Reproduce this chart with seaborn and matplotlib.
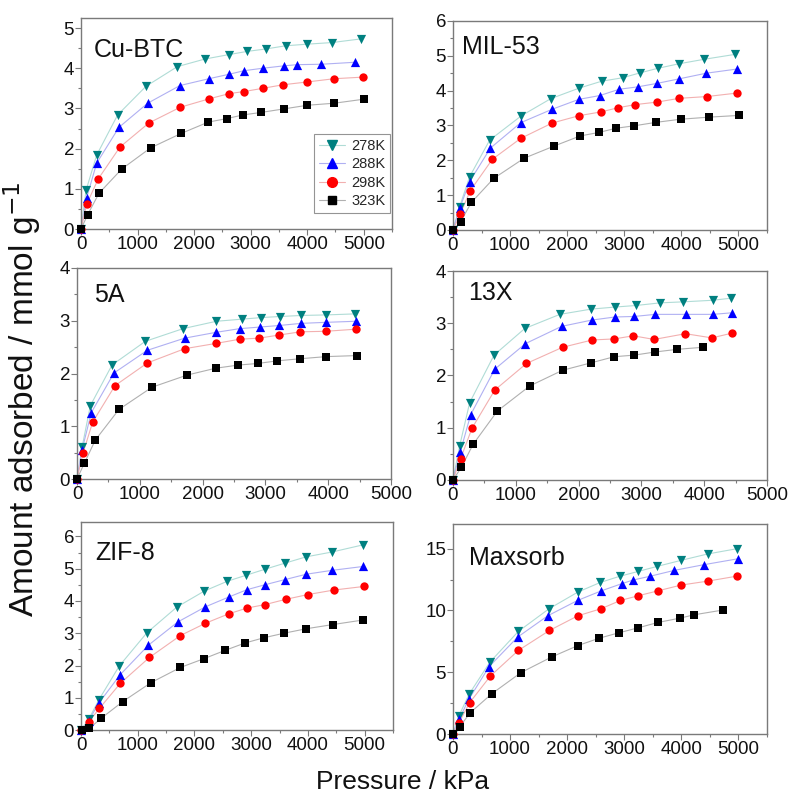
import numpy as np
import pandas as pd
import matplotlib
matplotlib.use("Agg")
import matplotlib.pyplot as plt
from matplotlib.lines import Line2D
from matplotlib.ticker import MultipleLocator
import seaborn as sns

temps = ["278K", "288K", "298K", "323K"]

# ---- Cu-BTC ----
cubtc_p_278 = [0, 88, 277, 648, 1148, 1702, 2191, 2615, 2939, 3268, 3622, 4005, 4440, 4947]
cubtc_q_278 = [0, 0.96, 1.84, 2.84, 3.55, 4.04, 4.23, 4.34, 4.42, 4.48, 4.56, 4.60, 4.64, 4.73]
cubtc_p_288 = [0, 100, 277, 671, 1178, 1749, 2262, 2615, 2886, 3210, 3587, 3823, 4252, 4853]
cubtc_q_288 = [0, 0.78, 1.64, 2.53, 3.13, 3.57, 3.74, 3.85, 3.94, 4.00, 4.06, 4.09, 4.10, 4.15]
cubtc_p_298 = [0, 100, 306, 689, 1201, 1755, 2267, 2621, 2880, 3210, 3575, 4005, 4476, 4988]
cubtc_q_298 = [0, 0.62, 1.25, 2.04, 2.64, 3.03, 3.24, 3.37, 3.42, 3.50, 3.59, 3.66, 3.74, 3.78]
cubtc_p_323 = [0, 118, 318, 718, 1231, 1773, 2250, 2585, 2868, 3180, 3592, 4005, 4476, 5000]
cubtc_q_323 = [0, 0.36, 0.89, 1.49, 2.02, 2.38, 2.66, 2.75, 2.84, 2.90, 2.99, 3.08, 3.13, 3.23]

# ---- MIL-53 ----
mil_p_278 = [0, 117, 292, 643, 1199, 1713, 2205, 2602, 2971, 3275, 3585, 3953, 4398, 4936]
mil_q_278 = [0, 0.67, 1.53, 2.58, 3.28, 3.77, 4.07, 4.27, 4.37, 4.51, 4.64, 4.77, 4.90, 5.04]
mil_p_288 = [0, 117, 292, 655, 1187, 1743, 2205, 2573, 2912, 3240, 3579, 3965, 4433, 4971]
mil_q_288 = [0, 0.62, 1.39, 2.35, 3.08, 3.47, 3.75, 3.86, 4.04, 4.11, 4.21, 4.34, 4.50, 4.62]
mil_p_298 = [0, 129, 304, 690, 1187, 1737, 2205, 2591, 2895, 3193, 3567, 3965, 4444, 4971]
mil_q_298 = [0, 0.46, 1.13, 2.03, 2.63, 3.07, 3.28, 3.39, 3.51, 3.60, 3.67, 3.78, 3.83, 3.93]
mil_p_323 = [0, 135, 322, 713, 1246, 1772, 2228, 2556, 2854, 3170, 3556, 3988, 4491, 5017]
mil_q_323 = [0, 0.24, 0.79, 1.48, 2.06, 2.41, 2.70, 2.80, 2.92, 2.99, 3.09, 3.18, 3.24, 3.29]

# ---- 5A ----
a5_p_278 = [0, 80, 212, 557, 1088, 1688, 2219, 2628, 2936, 3227, 3572, 3960, 4432]
a5_q_278 = [0, 0.60, 1.39, 2.16, 2.61, 2.85, 2.99, 3.03, 3.06, 3.08, 3.10, 3.11, 3.13]
a5_p_288 = [0, 80, 228, 589, 1120, 1714, 2213, 2590, 2909, 3222, 3567, 3970, 4443]
a5_q_288 = [0, 0.55, 1.26, 2.01, 2.44, 2.67, 2.78, 2.85, 2.88, 2.91, 2.95, 2.97, 2.99]
a5_p_298 = [0, 95, 250, 605, 1120, 1714, 2213, 2590, 2898, 3222, 3556, 3960, 4443]
a5_q_298 = [0, 0.49, 1.08, 1.77, 2.20, 2.47, 2.57, 2.65, 2.67, 2.73, 2.79, 2.80, 2.84]
a5_p_323 = [0, 117, 292, 669, 1194, 1752, 2208, 2569, 2877, 3190, 3556, 3965, 4459]
a5_q_323 = [0, 0.30, 0.74, 1.32, 1.74, 1.97, 2.10, 2.16, 2.19, 2.24, 2.28, 2.32, 2.34]

# ---- 13X ----
x13_p_278 = [0, 106, 266, 654, 1144, 1702, 2197, 2580, 2915, 3298, 3670, 4138, 4431]
x13_q_278 = [0, 0.65, 1.48, 2.39, 2.90, 3.17, 3.27, 3.31, 3.34, 3.39, 3.41, 3.44, 3.48]
x13_p_288 = [0, 117, 282, 665, 1154, 1729, 2207, 2580, 2888, 3218, 3707, 4138, 4441]
x13_q_288 = [0, 0.54, 1.25, 2.12, 2.61, 2.94, 3.06, 3.12, 3.13, 3.17, 3.17, 3.17, 3.20]
x13_p_298 = [0, 122, 303, 665, 1170, 1745, 2218, 2569, 2872, 3202, 3702, 4122, 4441]
x13_q_298 = [0, 0.41, 0.99, 1.72, 2.23, 2.54, 2.68, 2.70, 2.76, 2.69, 2.80, 2.72, 2.81]
x13_p_323 = [0, 133, 319, 707, 1223, 1745, 2191, 2569, 2888, 3218, 3564, 3979]
x13_q_323 = [0, 0.24, 0.68, 1.32, 1.80, 2.10, 2.24, 2.36, 2.39, 2.45, 2.50, 2.54]

# ---- ZIF-8 ----
zif_p_278 = [0, 135, 312, 676, 1159, 1688, 2176, 2576, 2912, 3235, 3588, 3971, 4429, 4971]
zif_q_278 = [0, 0.33, 0.93, 1.99, 3.01, 3.81, 4.31, 4.61, 4.80, 4.98, 5.17, 5.37, 5.52, 5.74]
zif_p_288 = [0, 135, 312, 688, 1188, 1706, 2194, 2600, 2924, 3235, 3588, 3971, 4424, 4971]
zif_q_288 = [0, 0.29, 0.83, 1.71, 2.63, 3.35, 3.82, 4.12, 4.35, 4.50, 4.66, 4.83, 4.95, 5.07]
zif_p_298 = [0, 135, 324, 694, 1206, 1753, 2194, 2600, 2924, 3247, 3606, 4000, 4459, 4982]
zif_q_298 = [0, 0.25, 0.67, 1.45, 2.25, 2.93, 3.31, 3.60, 3.78, 3.89, 4.05, 4.20, 4.34, 4.45]
zif_p_323 = [18, 147, 353, 735, 1235, 1753, 2165, 2541, 2894, 3224, 3576, 3971, 4441, 4971]
zif_q_323 = [0, 0.05, 0.36, 0.88, 1.47, 1.94, 2.21, 2.47, 2.70, 2.86, 3.00, 3.14, 3.27, 3.41]

# ---- Maxsorb ----
max_p_278 = [0, 106, 282, 646, 1144, 1684, 2189, 2582, 2917, 3245, 3580, 3991, 4460, 4977]
max_q_278 = [0, 1.49, 3.22, 5.81, 8.30, 10.14, 11.49, 12.27, 12.76, 13.16, 13.57, 14.05, 14.57, 15.0]
max_p_288 = [0, 106, 282, 634, 1132, 1661, 2183, 2600, 2952, 3152, 3445, 3873, 4390, 5000]
max_q_288 = [0, 1.19, 2.84, 5.46, 7.84, 9.57, 10.81, 11.59, 12.16, 12.46, 12.76, 13.24, 13.70, 14.19]
max_p_298 = [0, 106, 293, 657, 1144, 1690, 2189, 2594, 2934, 3245, 3592, 3991, 4472, 4977]
max_q_298 = [0, 0.92, 2.54, 4.70, 6.76, 8.38, 9.57, 10.14, 10.81, 11.19, 11.59, 12.05, 12.38, 12.78]
max_p_323 = [0, 117, 305, 675, 1191, 1731, 2189, 2565, 2905, 3240, 3592, 3979, 4225, 4724]
max_q_323 = [0, 0.59, 1.73, 3.24, 4.97, 6.24, 7.16, 7.76, 8.19, 8.59, 9.03, 9.38, 9.65, 10.03]

panels = [
    ("Cu-BTC", [(cubtc_p_278, cubtc_q_278), (cubtc_p_288, cubtc_q_288), (cubtc_p_298, cubtc_q_298), (cubtc_p_323, cubtc_q_323)]),
    ("MIL-53", [(mil_p_278, mil_q_278), (mil_p_288, mil_q_288), (mil_p_298, mil_q_298), (mil_p_323, mil_q_323)]),
    ("5A", [(a5_p_278, a5_q_278), (a5_p_288, a5_q_288), (a5_p_298, a5_q_298), (a5_p_323, a5_q_323)]),
    ("13X", [(x13_p_278, x13_q_278), (x13_p_288, x13_q_288), (x13_p_298, x13_q_298), (x13_p_323, x13_q_323)]),
    ("ZIF-8", [(zif_p_278, zif_q_278), (zif_p_288, zif_q_288), (zif_p_298, zif_q_298), (zif_p_323, zif_q_323)]),
    ("Maxsorb", [(max_p_278, max_q_278), (max_p_288, max_q_288), (max_p_298, max_q_298), (max_p_323, max_q_323)]),
]

sns.set_theme(style="white")
plt.rcParams["font.family"] = ["Liberation Sans", "DejaVu Sans"]

marker_colors = {"278K": "#008080", "288K": "#0000FF", "298K": "#FF0000", "323K": "#000000"}
line_colors = {"278K": "#B0DCD6", "288K": "#B0B0F2", "298K": "#F2B0B0", "323K": "#B0B0B0"}
markers = {"278K": "v", "288K": "^", "298K": "o", "323K": "s"}
msizes = {"278K": 44, "288K": 44, "298K": 36, "323K": 28}

# axes boxes [left, bottom, width, height] in figure fraction
boxes = [
    [0.1027, 0.7130, 0.3941, 0.2644],
    [0.5741, 0.7118, 0.3980, 0.2619],
    [0.0976, 0.3997, 0.3980, 0.2645],
    [0.5741, 0.3985, 0.3980, 0.2619],
    [0.1027, 0.0852, 0.3954, 0.2607],
    [0.5741, 0.0802, 0.3980, 0.2632],
]
xlims = [5500, 5500, 5000, 5000, 5500, 5500]
ylims = [5.25, 6, 4, 4, 6.45, 17]
ymaj = [1, 1, 1, 1, 1, 5]
title_pos = [(0.04, 0.85), (0.03, 0.875), (0.054, 0.87), (0.048, 0.895), (0.045, 0.85), (0.05, 0.84)]

fig = plt.figure(figsize=(7.89, 7.98), dpi=100)
spine_col = "#7a7a7a"

for i, (name, series) in enumerate(panels):
    ax = fig.add_axes(boxes[i])
    rows = []
    for t, (p, q) in zip(temps, series):
        for pp, qq in zip(p, q):
            rows.append({"P": pp, "q": qq, "T": t})
    df = pd.DataFrame(rows)
    sns.lineplot(data=df, x="P", y="q", hue="T", hue_order=temps, palette=line_colors,
                 sort=True, estimator=None, lw=0.8, ax=ax, legend=False)
    for t in temps:
        sns.scatterplot(data=df[df["T"] == t], x="P", y="q", color=marker_colors[t],
                        marker=markers[t], s=msizes[t], linewidth=0, ax=ax,
                        legend=False, zorder=3, clip_on=False)
    ax.set_xlim(0, xlims[i])
    ax.set_ylim(0, ylims[i])
    ax.xaxis.set_major_locator(MultipleLocator(1000))
    ax.xaxis.set_minor_locator(MultipleLocator(500))
    ax.yaxis.set_major_locator(MultipleLocator(ymaj[i]))
    ax.yaxis.set_minor_locator(MultipleLocator(ymaj[i] / 2))
    ax.set_xlabel("")
    ax.set_ylabel("")
    ax.tick_params(which="both", direction="out", bottom=True, left=True,
                   colors="#111111", labelsize=13.5, pad=1)
    ax.tick_params(which="major", length=4, width=0.8, color=spine_col)
    ax.tick_params(which="minor", length=2.5, width=0.8, color=spine_col)
    for s in ax.spines.values():
        s.set_color(spine_col)
        s.set_linewidth(1.0)
    ax.text(title_pos[i][0], title_pos[i][1], name, transform=ax.transAxes,
            fontsize=18, va="center", ha="left", color="#111111")
    if i == 0:
        handles = [Line2D([0], [0], color=line_colors[t], lw=0.8, marker=markers[t],
                          markerfacecolor=marker_colors[t], markeredgecolor=marker_colors[t],
                          markersize=7 if t != "323K" else 5.5)
                   for t in temps]
        leg = ax.legend(handles, temps, loc="lower right", fontsize=10.5, frameon=True,
                        fancybox=False, edgecolor=spine_col, handlelength=1.8,
                        handletextpad=0.4, borderpad=0.35, labelspacing=0.3,
                        borderaxespad=0.0, bbox_to_anchor=(0.995, 0.075))
        leg.get_frame().set_linewidth(0.8)

fig.text(0.028, 0.5, "Amount adsorbed / mmol g$^{-1}$", rotation=90, ha="center",
         va="center", fontsize=24, color="#111111")
fig.text(0.51, 0.02, "Pressure / kPa", ha="center", va="center", fontsize=19, color="#111111")

fig.savefig("out.png", dpi=100)
